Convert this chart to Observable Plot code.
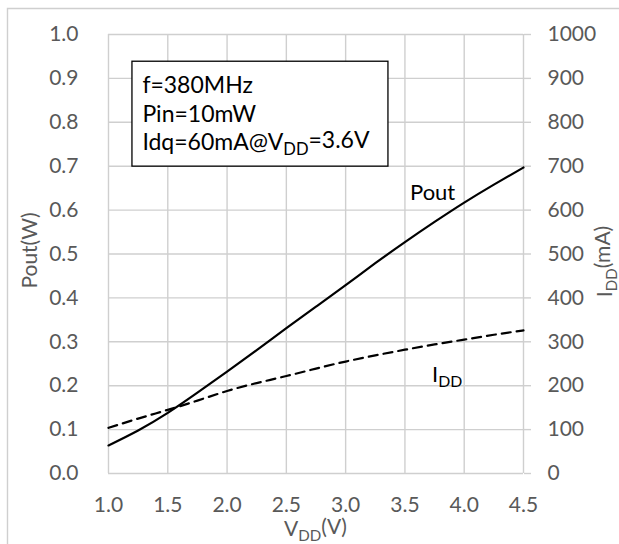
<!DOCTYPE html>
<html><head><meta charset="utf-8">
<script src="https://cdn.jsdelivr.net/npm/d3@7"></script>
<script src="https://cdn.jsdelivr.net/npm/@observablehq/plot@0.6"></script>
<style>
body{margin:0;background:#fff;}
#chart svg{display:block;}
</style>
</head><body><div id="chart"></div>
<script>
// Data
const vdd  = [1.0, 1.25, 1.5, 1.75, 2.0, 2.25, 2.5, 2.75, 3.0, 3.25, 3.5, 3.75, 4.0, 4.25, 4.5];
const poutW = [0.064, 0.098, 0.138, 0.184, 0.232, 0.281, 0.331, 0.380, 0.429, 0.479, 0.527, 0.573, 0.617, 0.658, 0.697];
const iddMA = [104, 125, 145, 166, 188, 206, 222, 239, 255, 269, 282, 294, 305, 316, 326];
const xTicks = [1.0, 1.5, 2.0, 2.5, 3.0, 3.5, 4.0, 4.5];
const yTicks = [0, 0.1, 0.2, 0.3, 0.4, 0.5, 0.6, 0.7, 0.8, 0.9, 1.0];
const rightTicks = [0, 100, 200, 300, 400, 500, 600, 700, 800, 900, 1000];
const noteLines = ["f=380MHz", "Pin=10mW", ["Idq=60mA@V", "DD", "=3.6V"]];

const poutRows = vdd.map((v, i) => ({v, p: poutW[i]}));
const iddRows = vdd.map((v, i) => ({v, p: iddMA[i] / 1000}));

const FONT = "Lato, 'Open Sans', sans-serif";
const grid = "#cfcfcf";
const tickColor = "#595959";

const plot = Plot.plot({
  width: 619, height: 544,
  marginLeft: 108, marginRight: 96, marginTop: 34, marginBottom: 71,
  style: {fontFamily: FONT, background: "#fff"},
  x: {domain: [1.0, 4.5]},
  y: {domain: [0, 1.0]},
  marks: [
    Plot.ruleY(yTicks, {y: d => d, stroke: grid, strokeWidth: 1.4}),
    Plot.ruleX(xTicks, {x: d => d, stroke: grid, strokeWidth: 1.4}),
    Plot.axisY(yTicks, {anchor: "left", tickSize: 0, tickPadding: 30, tickFormat: d => d.toFixed(1), fontSize: 21, fill: tickColor, label: null}),
    Plot.axisY(rightTicks.map(d => d / 1000), {anchor: "right", tickSize: 7, tickPadding: 17, stroke: grid, strokeWidth: 1.4, tickFormat: d => String(Math.round(d * 1000)), fontSize: 21, fill: tickColor, label: null}),
    Plot.axisX(xTicks, {anchor: "bottom", tickSize: 0, tickPadding: 24, tickFormat: d => d.toFixed(1), fontSize: 21, fill: tickColor, label: null}),
    Plot.line(iddRows, {x: "v", y: "p", stroke: "#000", strokeWidth: 2.2, strokeDasharray: "9,6", curve: "natural"}),
    Plot.line(poutRows, {x: "v", y: "p", stroke: "#000", strokeWidth: 2.2, curve: "natural"})
  ]
});
document.getElementById("chart").appendChild(plot);

const svg = d3.select(plot);
const sx = plot.scale("x").apply, sy = plot.scale("y").apply;

// outer chart border (only left and top are within view)
svg.append("path").attr("d", "M7.5,544V8.5H619").attr("fill", "none").attr("stroke", grid).attr("stroke-width", 1.4);

function addText(g, parts, attrs) {
  const t = g.append("text").attr("text-anchor", "start");
  Object.entries(attrs).forEach(([k, v]) => t.attr(k, v));
  parts.forEach((p, i) => {
    const sub = i % 2 === 1;
    const ts = t.append("tspan").text(p);
    if (sub) ts.attr("font-size", "0.72em").attr("dy", "0.3em");
    else if (i > 0) ts.attr("dy", "-0.3em");
  });
  return t;
}

// axis titles
const cy = (sy(0) + sy(1)) / 2;
addText(svg, ["Pout(W)"], {transform: `translate(37,${cy - 3}) rotate(-90)`, "text-anchor": "middle", "font-size": 21, fill: tickColor, "font-family": FONT});
addText(svg, ["I", "DD", "(mA)"], {transform: `translate(612,${cy + 8}) rotate(-90)`, "text-anchor": "middle", "font-size": 21, fill: tickColor, "font-family": FONT});
addText(svg, ["V", "DD", "(V)"], {x: (sx(1) + sx(4.5)) / 2, y: 536, "text-anchor": "middle", "font-size": 21, fill: tickColor, "font-family": FONT});

// note box
svg.append("rect").attr("x", sx(1.202)).attr("y", sy(0.938)).attr("width", sx(3.361) - sx(1.202)).attr("height", sy(0.699) - sy(0.938))
  .attr("fill", "#fff").attr("stroke", "#000").attr("stroke-width", 1.3);
const noteY = [0.866, 0.800, 0.736];
noteLines.forEach((ln, i) => {
  addText(svg, Array.isArray(ln) ? ln : [ln], {x: sx(1.29), y: sy(noteY[i]), "font-size": 23, fill: "#000", "font-family": FONT});
});

// series labels
addText(svg, ["Pout"], {x: sx(3.547), y: sy(0.622), "font-size": 22, fill: "#000", "font-family": FONT});
addText(svg, ["I", "DD"], {x: sx(3.733), y: sy(0.207), "font-size": 22, fill: "#000", "font-family": FONT});
</script>
</body></html>
